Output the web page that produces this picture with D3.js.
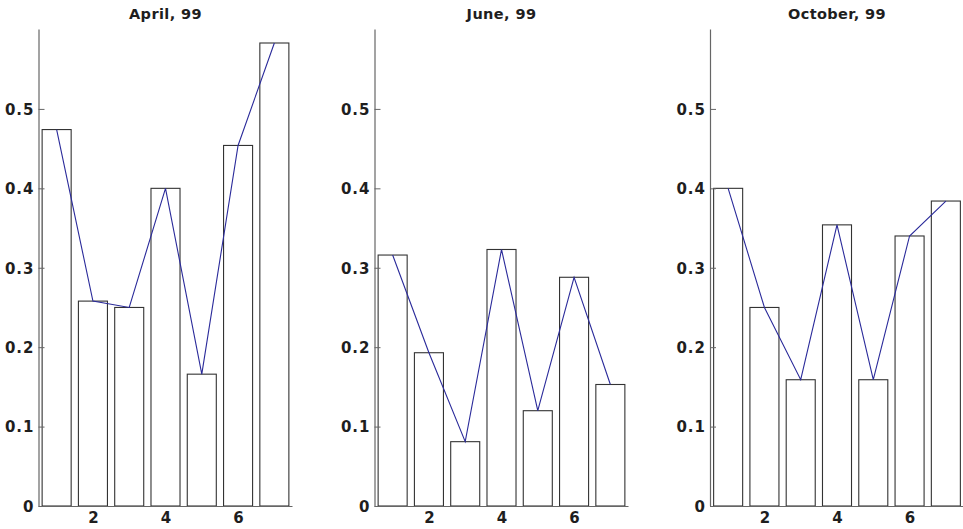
<!DOCTYPE html>
<html>
<head>
<meta charset="utf-8">
<script src="https://cdn.jsdelivr.net/npm/d3@7"></script>
<style>
  body { margin: 0; background: #fff; }
  svg { display: block; }
  text { font-family: "DejaVu Sans", sans-serif; font-weight: bold; fill: #1e1e1e; }
</style>
</head>
<body>
<svg id="chart" width="963" height="529"></svg>
<script>
const categories = [1, 2, 3, 4, 5, 6, 7];
const titles = ["April, 99", "June, 99", "October, 99"];
const aprilValues = [0.474, 0.258, 0.250, 0.400, 0.166, 0.454, 0.583];
const juneValues = [0.316, 0.193, 0.081, 0.323, 0.120, 0.288, 0.153];
const octoberValues = [0.400, 0.250, 0.159, 0.354, 0.159, 0.340, 0.384];
const yTicks = [0, 0.1, 0.2, 0.3, 0.4, 0.5];
const xTicks = [2, 4, 6];

const seriesList = [aprilValues, juneValues, octoberValues];
const svg = d3.select("#chart");

const panelLeft = [38.5, 374.5, 710];
const plotTop = 29.5, plotBottom = 506, plotW = 254;
const barWidthUnits = 0.8;

seriesList.forEach((vals, i) => {
  const g = svg.append("g").attr("transform", `translate(${panelLeft[i]},0)`);
  const x = d3.scaleLinear().domain([0.5, 7.5]).range([0, plotW]);
  const y = d3.scaleLinear().domain([0, 0.6]).range([plotBottom, plotTop]);

  // bars
  g.selectAll("rect.bar").data(vals).join("rect")
    .attr("class", "bar")
    .attr("x", (d, j) => x(categories[j] - barWidthUnits / 2))
    .attr("width", x(barWidthUnits) - x(0))
    .attr("y", d => y(d))
    .attr("height", d => y(0) - y(d))
    .attr("fill", "#fff")
    .attr("stroke", "#333")
    .attr("stroke-width", 1.1);

  // line
  const line = d3.line().x((d, j) => x(categories[j])).y(d => y(d));
  g.append("path").datum(vals)
    .attr("d", line)
    .attr("fill", "none")
    .attr("stroke", "#2a2a9a")
    .attr("stroke-width", 1.1);

  // y axis
  const yAxis = d3.axisRight(y).tickValues(yTicks).tickSize(6).tickFormat(d => d === 0 ? "0" : d3.format(".1f")(d));
  const ya = g.append("g").call(yAxis);
  ya.select(".domain").attr("stroke", "#666").attr("stroke-width", 1.2).attr("d", `M0.5,${plotTop}V${plotBottom}`);
  ya.selectAll(".tick line").attr("stroke", "#666");
  ya.selectAll(".tick text")
    .attr("x", -4)
    .attr("text-anchor", "end")
    .attr("dy", "0.36em")
    .style("font-size", "15px")
    .style("letter-spacing", "1px")
    .style("font-weight", "bold")
    .style("font-family", "DejaVu Sans")
    .attr("fill", "#1e1e1e");

  // x axis
  const xAxis = d3.axisBottom(x).tickValues(xTicks).tickSize(0).tickFormat(d3.format("d"));
  const xa = g.append("g").attr("transform", `translate(0,${plotBottom})`).call(xAxis);
  xa.select(".domain").attr("stroke", "#666").attr("stroke-width", 1.2).attr("d", `M0,0.5H${plotW}`);
  xa.selectAll(".tick text")
    .attr("y", 6)
    .attr("dy", "0.71em")
    .style("font-size", "15px")
    .style("font-weight", "bold")
    .style("font-family", "DejaVu Sans")
    .attr("fill", "#1e1e1e");

  // title
  g.append("text")
    .attr("x", plotW / 2)
    .attr("y", 19)
    .attr("text-anchor", "middle")
    .style("font-size", "14.5px")
    .style("letter-spacing", "0.4px")
    .text(titles[i]);
});
</script>
</body>
</html>
